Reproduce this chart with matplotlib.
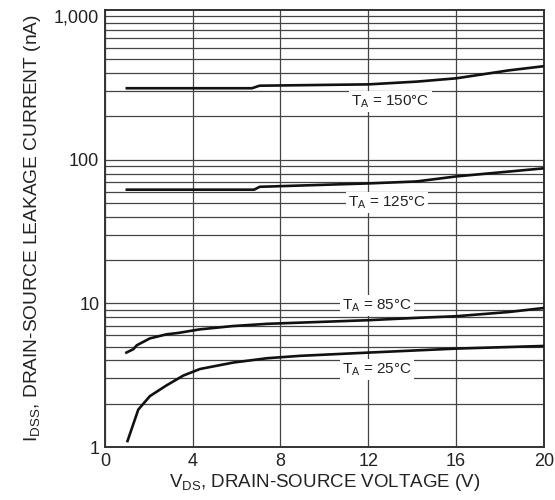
import matplotlib.pyplot as plt
from matplotlib.ticker import FixedLocator, NullFormatter

plt.rcParams['font.family'] = ['Liberation Sans', 'DejaVu Sans']
plt.rcParams['mathtext.fontset'] = 'custom'
plt.rcParams['mathtext.rm'] = 'Liberation Sans'

# curves (V_DS in V, I_DSS in nA)
v_150 = [1.0, 6.7, 7.05, 12.0, 14.2, 16.0, 18.4, 20.0]
i_150 = [314, 314, 327, 334, 349, 368, 418, 447]

v_125 = [1.0, 6.8, 7.05, 12.0, 14.2, 16.0, 20.0]
i_125 = [61.8, 61.8, 64.7, 68.3, 70.5, 76.4, 87.0]

v_85 = [0.98, 1.3, 1.45, 2.05, 2.8, 3.4, 4.3, 5.8, 7.4, 12.0, 14.2, 16.0, 18.4, 20.0]
i_85 = [4.54, 4.8, 5.1, 5.7, 6.08, 6.24, 6.58, 6.94, 7.2, 7.63, 7.92, 8.13, 8.7, 9.28]

v_25 = [1.03, 1.52, 2.05, 2.8, 3.57, 4.33, 5.85, 7.4, 8.9, 12.0, 16.0, 20.0]
i_25 = [1.1, 1.82, 2.26, 2.68, 3.14, 3.49, 3.87, 4.15, 4.31, 4.54, 4.84, 5.05]

labels = ["T$_\\mathregular{A}$ = 150°C", "T$_\\mathregular{A}$ = 125°C",
          "T$_\\mathregular{A}$ = 85°C", "T$_\\mathregular{A}$ = 25°C"]
label_x = [13.0, 12.85, 12.4, 12.4]
label_y = [255, 50.5, 9.64, 3.45]

x_ticks = [0, 4, 8, 12, 16, 20]
y_ticks = [1, 10, 100, 1000]
y_tick_labels = ["1", "10", "100", "1,000"]

fig = plt.figure(figsize=(5.55, 5.0), dpi=100)
ax = fig.add_axes([0.189, 0.106, 0.791, 0.874])

ax.set_yscale('log')
ax.set_xlim(0, 20)
ax.set_ylim(1, 1100)

ax.xaxis.set_major_locator(FixedLocator(x_ticks))
ax.yaxis.set_major_locator(FixedLocator(y_ticks))
ax.set_yticklabels(y_tick_labels)
minors = [m * 10 ** d for d in range(3) for m in range(2, 10)]
ax.yaxis.set_minor_locator(FixedLocator(minors))
ax.yaxis.set_minor_formatter(NullFormatter())

ax.grid(True, which='both', axis='y', color='#444444', lw=0.9)
ax.grid(True, which='major', axis='x', color='#444444', lw=0.9)
ax.set_axisbelow(True)
ax.tick_params(which='both', length=0, labelsize=13, pad=4, colors='#222222')

for sp in ax.spines.values():
    sp.set_linewidth(1.4)
    sp.set_color('#333333')

for v, i in [(v_150, i_150), (v_125, i_125), (v_85, i_85), (v_25, i_25)]:
    ax.plot(v, i, color='#111111', lw=1.9, zorder=3)

for t, x, y in zip(labels, label_x, label_y):
    ax.text(x, y, t, ha='center', va='center', fontsize=11, color='#222222',
            bbox=dict(facecolor='white', edgecolor='none', pad=1.5), zorder=4)

ax.set_xlabel("V$_\\mathregular{DS}$, DRAIN-SOURCE VOLTAGE (V)", fontsize=13.5,
              color='#222222', labelpad=2)
ax.set_ylabel("I$_\\mathregular{DSS}$, DRAIN-SOURCE LEAKAGE CURRENT (nA)", fontsize=13.8,
              color='#222222', labelpad=8)

fig.savefig("out.png", dpi=100)
